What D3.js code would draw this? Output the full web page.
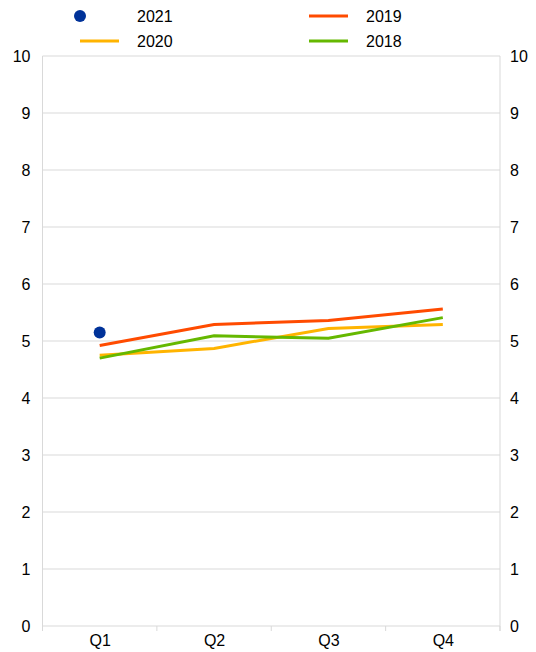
<!DOCTYPE html>
<html>
<head>
<meta charset="utf-8">
<script src="https://cdn.jsdelivr.net/npm/d3@7"></script>
<style>
  body { margin: 0; background: #fff; }
  svg text { font-family: "Liberation Sans", Arial, sans-serif; fill: #000; }
</style>
</head>
<body>
<svg id="chart" width="536" height="652"></svg>
<script>
// Data
const quarters = ["Q1", "Q2", "Q3", "Q4"];
const yTicks = [0, 1, 2, 3, 4, 5, 6, 7, 8, 9, 10];
const values2021 = [5.15];
const values2020 = [4.75, 4.87, 5.22, 5.29];
const values2019 = [4.92, 5.29, 5.36, 5.56];
const values2018 = [4.70, 5.09, 5.05, 5.41];

const lineSeries = [
    { name: "2020", color: "#FFB400", values: values2020 },
    { name: "2018", color: "#65B800", values: values2018 },
    { name: "2019", color: "#FF4B00", values: values2019 }
];

const plotLeft = 42.5, plotRight = 500, plotTop = 56, plotBottom = 626;

const svg = d3.select("#chart");

const x = d3.scalePoint().domain(quarters).range([plotLeft, plotRight]).padding(0.5);
const y = d3.scaleLinear().domain([0, 10]).range([plotBottom, plotTop]);

// gridlines
svg.append("g")
    .selectAll("line")
    .data(yTicks)
    .enter()
    .append("line")
    .attr("x1", plotLeft).attr("x2", plotRight)
    .attr("y1", d => y(d)).attr("y2", d => y(d))
    .attr("stroke", "#d9d9d9")
    .attr("stroke-width", 1);

// left / right frame
svg.append("line").attr("x1", plotLeft).attr("x2", plotLeft).attr("y1", plotTop).attr("y2", plotBottom + 5)
    .attr("stroke", "#d9d9d9");
svg.append("line").attr("x1", plotRight).attr("x2", plotRight).attr("y1", plotTop).attr("y2", plotBottom + 5)
    .attr("stroke", "#d9d9d9");

// y axis labels, both sides
svg.append("g")
    .attr("transform", "translate(" + plotLeft + ",0)")
    .call(d3.axisLeft(y).tickValues(yTicks).tickSize(0).tickPadding(12))
    .call(g => g.select(".domain").remove())
    .selectAll("text")
        .attr("font-size", "16px");

svg.append("g")
    .attr("transform", "translate(" + plotRight + ",0)")
    .call(d3.axisRight(y).tickValues(yTicks).tickSize(0).tickPadding(10))
    .call(g => g.select(".domain").remove())
    .selectAll("text")
        .attr("font-size", "16px");

// x axis: small ticks at category boundaries
const step = x.step();
svg.append("g")
    .selectAll("line")
    .data(d3.range(quarters.length + 1))
    .enter()
    .append("line")
    .attr("x1", i => plotLeft + i * step).attr("x2", i => plotLeft + i * step)
    .attr("y1", plotBottom).attr("y2", plotBottom + 5)
    .attr("stroke", "#d9d9d9");

svg.append("g")
    .attr("transform", "translate(0," + plotBottom + ")")
    .call(d3.axisBottom(x).tickSize(0).tickPadding(9))
    .call(g => g.select(".domain").remove())
    .selectAll("text")
        .attr("font-size", "16px");

// lines
const line = d3.line()
    .x((d, i) => x(quarters[i]))
    .y(d => y(d));

svg.append("g")
    .selectAll("path")
    .data(lineSeries)
    .enter()
    .append("path")
    .attr("d", d => line(d.values))
    .attr("fill", "none")
    .attr("stroke", d => d.color)
    .attr("stroke-width", 3);

// 2021 dot
svg.append("g")
    .selectAll("circle")
    .data(values2021)
    .enter()
    .append("circle")
    .attr("cx", (d, i) => x(quarters[i]))
    .attr("cy", d => y(d))
    .attr("r", 6)
    .attr("fill", "#003299");

// legend
const legend = svg.append("g");
legend.append("circle").attr("cx", 80).attr("cy", 16).attr("r", 6).attr("fill", "#003299");
legend.append("text").attr("x", 137).attr("y", 22).attr("font-size", "16px").text("2021");
legend.append("line").attr("x1", 80).attr("x2", 119).attr("y1", 41).attr("y2", 41)
    .attr("stroke", "#FFB400").attr("stroke-width", 3);
legend.append("text").attr("x", 137).attr("y", 47).attr("font-size", "16px").text("2020");
legend.append("line").attr("x1", 309).attr("x2", 348).attr("y1", 16).attr("y2", 16)
    .attr("stroke", "#FF4B00").attr("stroke-width", 3);
legend.append("text").attr("x", 366).attr("y", 22).attr("font-size", "16px").text("2019");
legend.append("line").attr("x1", 309).attr("x2", 348).attr("y1", 41).attr("y2", 41)
    .attr("stroke", "#65B800").attr("stroke-width", 3);
legend.append("text").attr("x", 366).attr("y", 47).attr("font-size", "16px").text("2018");
</script>
</body>
</html>
